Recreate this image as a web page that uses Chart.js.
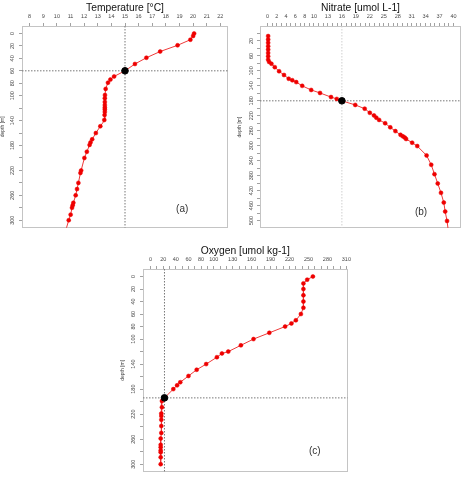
<!DOCTYPE html>
<html><head><meta charset="utf-8">
<script src="https://cdn.jsdelivr.net/npm/chart.js@4"></script>
<style>
html,body{margin:0;padding:0;background:#fff;width:466px;height:479px;overflow:hidden;}
canvas{position:absolute;}
</style></head><body>
<canvas id="ca" width="233" height="233" style="left:0px;top:0px"></canvas>
<canvas id="cb" width="233" height="233" style="left:233px;top:0px"></canvas>
<canvas id="cc" width="236" height="234" style="left:118px;top:243px"></canvas>
<script>
// ---------- Panel (a): Temperature ----------
const tempValues = [20.07, 20.0, 19.8, 18.86, 17.58, 16.57, 15.73, 15.0, 14.2, 13.93, 13.75, 13.58, 13.53, 13.52, 13.52, 13.52, 13.52, 13.52, 13.52, 13.5, 13.48, 13.19, 12.86, 12.59, 12.47, 12.4, 12.2, 12.02, 11.78, 11.73, 11.58, 11.48, 11.38, 11.21, 11.16, 11.11, 11.01, 10.87, 10.6];
const tempDepths = [0, 4, 10, 19, 29, 39, 49, 60, 69, 74, 79, 89, 99, 104, 110, 115, 119, 122, 126, 131, 139, 149, 160, 170, 175, 179, 190, 200, 220, 224, 240, 250, 260, 272, 276, 280, 291, 300, 320];
const tempMarker = [15, 60];
const tempTicks = [8, 9, 10, 11, 12, 13, 14, 15, 16, 17, 18, 19, 20, 21, 22];
const tempTickLabels = [8, 9, 10, 11, 12, 13, 14, 15, 16, 17, 18, 19, 20, 21, 22];
const depthTicksA = [0, 20, 40, 60, 80, 100, 120, 140, 160, 180, 200, 220, 240, 260, 280, 300];
const depthLabelsA = [0, 20, 40, 60, 80, 100, 140, 180, 220, 260, 300];

// ---------- Panel (b): Nitrate ----------
const nitrateValues = [0.15, 0.15, 0.15, 0.15, 0.15, 0.15, 0.15, 0.15, 0.36, 0.86, 1.58, 2.5, 3.56, 4.57, 5.34, 6.19, 7.47, 9.4, 11.3, 13.66, 14.9, 16.0, 18.87, 20.9, 22.0, 22.9, 23.4, 24.0, 25.3, 26.4, 27.5, 28.6, 29.1, 29.5, 29.8, 31.1, 32.2, 34.2, 35.2, 35.9, 36.6, 37.3, 37.9, 38.2, 38.6, 38.9];
const nitrateDepths = [7, 16, 25, 34, 43, 52, 61, 70, 76, 81, 90, 101, 111, 121, 125, 130, 140, 151, 159, 170, 175, 180, 191, 201, 212, 219, 225, 231, 240, 251, 261, 271, 275, 278, 282, 292, 301, 326, 351, 376, 401, 426, 452, 476, 501, 530];
const nitrateMarker = [16, 180];
const nitrateTicks = [0,1,2,3,4,5,6,7,8,9,10,11,12,13,14,15,16,17,18,19,20,21,22,23,24,25,26,27,28,29,30,31,32,33,34,35,36,37,38,39,40];
const nitrateTickLabels = [0, 2, 4, 6, 8, 10, 13, 16, 19, 22, 25, 28, 31, 34, 37, 40];
const depthTicksB = [0, 20, 40, 60, 80, 100, 120, 140, 160, 180, 200, 220, 240, 260, 280, 300, 320, 340, 360, 380, 400, 420, 440, 460, 480, 500];
const depthLabelsB = [20, 60, 100, 140, 180, 220, 260, 300, 340, 380, 420, 460, 500];

// ---------- Panel (c): Oxygen ----------
const oxygenValues = [257, 248, 242, 242, 242, 242, 242, 238, 230, 223, 213, 188, 163, 143, 123, 113, 105, 88, 73, 60, 47, 42, 36, 22, 18, 18, 17, 17, 17, 17, 17, 16, 16, 16, 16, 16, 16, 16];
const oxygenDepths = [0, 5, 11, 20, 30, 40, 50, 60, 70, 75, 80, 90, 100, 110, 120, 123, 129, 140, 149, 159, 169, 174, 180, 194, 199, 209, 219, 223, 229, 239, 250, 259, 269, 273, 278, 281, 289, 300];
const oxygenMarker = [22, 194];
const oxygenTicks = [0,10,20,30,40,50,60,70,80,90,100,110,120,130,140,150,160,170,180,190,200,210,220,230,240,250,260,270,280,290,300,310];
const oxygenTickLabels = [0, 20, 40, 60, 80, 100, 130, 160, 190, 220, 250, 280, 310];
const depthTicksC = [0, 20, 40, 60, 80, 100, 120, 140, 160, 180, 200, 220, 240, 260, 280, 300];
const depthLabelsC = [0, 20, 40, 60, 80, 100, 140, 180, 220, 260, 300];

const FONT = "'Liberation Sans', Arial, Helvetica, sans-serif";
const TITLE_SIZE = 10.3;
const TITLE_PAD_TOP = 2;
const TITLE_BOX = TITLE_PAD_TOP + TITLE_SIZE * 1.2;

const framePlugin = {
  id: 'frame',
  beforeDatasetsDraw(chart) {
    const {ctx, chartArea: a} = chart;
    ctx.save();
    ctx.strokeStyle = '#c4c4c4';
    ctx.lineWidth = 1;
    ctx.strokeRect(Math.round(a.left) + 0.5, Math.round(a.top) + 0.5,
                   Math.round(a.right - a.left) - 1, Math.round(a.bottom - a.top) - 1);
    ctx.restore();
  },
  afterDraw(chart, args, opts) {
    if (!opts.text) return;
    const {ctx} = chart;
    const x = chart.scales.x.getPixelForValue(opts.at[0]);
    const y = chart.scales.y.getPixelForValue(opts.at[1]);
    ctx.save();
    ctx.font = '10px ' + FONT;
    ctx.fillStyle = '#333';
    ctx.textAlign = 'center';
    ctx.textBaseline = 'middle';
    ctx.fillText(opts.text, x, y);
    ctx.restore();
  }
};

function makePanel(id, p) {
  const pts = p.values.map((v, i) => ({x: v, y: p.depths[i]}));
  new Chart(document.getElementById(id), {
    type: 'scatter',
    data: {
      datasets: [
        {data: [{x: p.marker[0], y: p.marker[1]}], pointRadius: 3.3, pointBackgroundColor: '#000', pointBorderColor: '#000', showLine: false, order: 0},
        {data: pts, showLine: true, borderColor: '#ee3a3a', borderWidth: 1, pointRadius: 2, pointBackgroundColor: '#ee0000', pointBorderColor: '#ee0000', pointBorderWidth: 0.5, order: 1},
        {data: [{x: p.marker[0], y: p.yRange[0]}, {x: p.marker[0], y: p.yRange[1]}], showLine: true, borderColor: p.vColor, borderWidth: 1, borderDash: [1.5, 1.5], pointRadius: 0, order: 2},
        {data: [{x: p.xRange[0], y: p.marker[1]}, {x: p.xRange[1], y: p.marker[1]}], showLine: true, borderColor: '#777', borderWidth: 1, borderDash: [1.5, 1.5], pointRadius: 0, order: 2}
      ]
    },
    options: {
      responsive: false,
      animation: false,
      devicePixelRatio: 1,
      events: [],
      layout: {padding: p.pad},
      plugins: {
        legend: {display: false},
        tooltip: {enabled: false},
        title: {display: true, text: p.title, fullSize: false, color: '#111',
                font: {size: TITLE_SIZE, family: FONT, weight: 'normal'}, padding: {top: TITLE_PAD_TOP, bottom: 0}},
        frame: {text: p.label, at: p.labelAt}
      },
      scales: {
        x: {
          type: 'linear', position: 'top', min: p.xRange[0], max: p.xRange[1],
          afterBuildTicks: s => { s.ticks = p.xTicks.map(v => ({value: v})); },
          afterFit: s => { s.height = 26 - TITLE_BOX; },
          ticks: {autoSkip: false, maxRotation: 0, minRotation: 0, padding: 3, color: '#444',
                  font: {size: 5.5, family: FONT},
                  callback: v => p.xLabels.includes(v) ? String(v) : ''},
          grid: {drawOnChartArea: false, drawTicks: true, tickLength: 3, color: '#8a8a8a', lineWidth: 0.8},
          border: {display: false}
        },
        y: {
          type: 'linear', position: 'left', reverse: true, min: p.yRange[0], max: p.yRange[1],
          afterBuildTicks: s => { s.ticks = p.yTicks.map(v => ({value: v})); },
          afterFit: s => { s.width = p.yWidth; },
          title: {display: true, text: 'depth [m]', color: '#444', font: {size: 5, family: FONT}, padding: {top: p.yTitlePad, bottom: 0}},
          ticks: {autoSkip: false, minRotation: 90, maxRotation: 90, crossAlign: 'center', padding: p.yTickPad, color: '#444',
                  font: {size: 5.5, family: FONT},
                  callback: v => p.yLabels.includes(v) ? String(v) : ''},
          grid: {drawOnChartArea: false, drawTicks: true, tickLength: 3, color: '#8a8a8a', lineWidth: 0.8},
          border: {display: false}
        }
      }
    },
    plugins: [framePlugin]
  });
}

makePanel('ca', {
  title: 'Temperature [°C]', values: tempValues, depths: tempDepths, marker: tempMarker,
  xRange: [7.44, 22.56], yRange: [-12, 312], xTicks: tempTicks, xLabels: tempTickLabels,
  yTicks: depthTicksA, yLabels: depthLabelsA, pad: {left: 0, top: 0, right: 5, bottom: 3},
  yWidth: 22, yTickPad: 2, yTitlePad: 0, vColor: '#777', label: '(a)', labelAt: [19.2, 283]
});
makePanel('cb', {
  title: 'Nitrate [umol L-1]', values: nitrateValues, depths: nitrateDepths, marker: nitrateMarker,
  xRange: [-1.6, 41.6], yRange: [-20, 520], xTicks: nitrateTicks, xLabels: nitrateTickLabels,
  yTicks: depthTicksB, yLabels: depthLabelsB, pad: {left: 0, top: 0, right: 1, bottom: 4},
  yWidth: 27, yTickPad: 1, yTitlePad: 4, vColor: '#cfcfcf', label: '(b)', labelAt: [33, 479]
});
makePanel('cc', {
  title: 'Oxygen [umol kg-1]', values: oxygenValues, depths: oxygenDepths, marker: oxygenMarker,
  xRange: [-12, 312], yRange: [-12, 312], xTicks: oxygenTicks, xLabels: oxygenTickLabels,
  yTicks: depthTicksC, yLabels: depthLabelsC, pad: {left: 0, top: 0, right: 4, bottom: 4},
  yWidth: 25, yTickPad: 2, yTitlePad: 2, vColor: '#777', label: '(c)', labelAt: [260, 280]
});
</script>
</body></html>
